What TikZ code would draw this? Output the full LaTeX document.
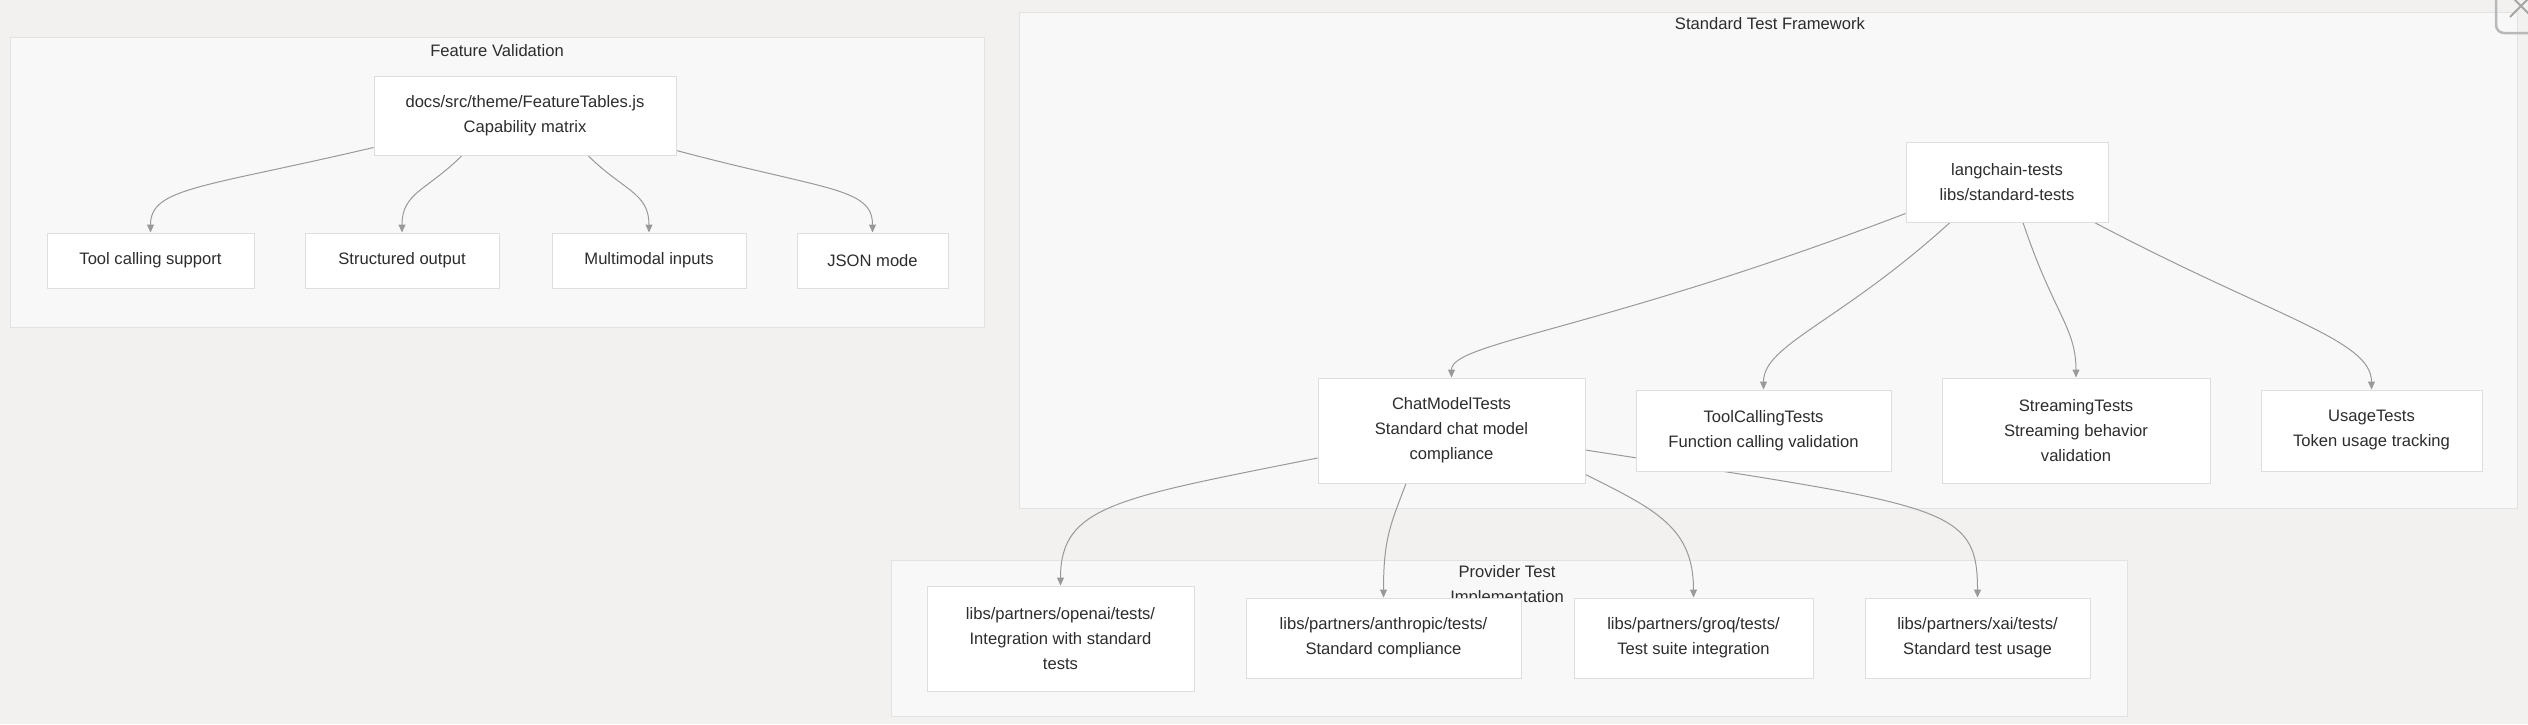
\documentclass[tikz,border=0pt]{standalone}
\usepackage{fontspec}
\setmainfont{Liberation Sans}
\usepackage{tikz}
\usetikzlibrary{arrows.meta}
\definecolor{bgcol}{RGB}{242,241,239}
\definecolor{clfill}{RGB}{248,248,248}
\definecolor{clline}{RGB}{226,226,226}
\definecolor{boxline}{RGB}{222,222,222}
\definecolor{txt}{RGB}{45,45,45}
\definecolor{edgecol}{RGB}{153,153,153}
\pgfdeclarelayer{back}
\pgfdeclarelayer{wires}
\pgfsetlayers{back,wires,main}

\begin{document}
\begin{tikzpicture}[x=1pt, y=-1pt,
  box/.style={rectangle, draw=boxline, fill=white, line width=1pt, align=center, inner sep=0pt, text=txt, font=\fontsize{16.6}{25}\selectfont},
  cluster/.style={draw=clline, fill=clfill, line width=1pt},
  title/.style={text=txt, align=center, font=\fontsize{16.6}{25}\selectfont},
  link/.style={draw=edgecol, line width=1pt, -{Triangle[length=8pt,width=7pt]}}]
\useasboundingbox (0,0) rectangle (2528,724);

\node (cap) at (525,115.5) [box, minimum width=302pt, minimum height=79pt] {docs/src/theme/FeatureTables.js\\Capability matrix};
\node (tool) at (150.5,260.5) [box, minimum width=207pt, minimum height=55pt] {Tool calling support};
\node (struct) at (402,260.5) [box, minimum width=194pt, minimum height=55pt] {Structured output};
\node (multi) at (649,260.5) [box, minimum width=194pt, minimum height=55pt] {Multimodal inputs};
\node (json) at (872.5,260.5) [box, minimum width=151pt, minimum height=55pt] {JSON mode};

\node (lct) at (2007,182) [box, minimum width=202pt, minimum height=80pt] {langchain-tests\\libs/standard-tests};
\node (chat) at (1451.5,430.5) [box, minimum width=267pt, minimum height=105pt] {ChatModelTests\\Standard chat model\\compliance};
\node (toolc) at (1763.5,430.5) [box, minimum width=255pt, minimum height=81pt] {ToolCallingTests\\Function calling validation};
\node (stream) at (2076,430.5) [box, minimum width=268pt, minimum height=105pt] {StreamingTests\\Streaming behavior\\validation};
\node (usage) at (2371.5,430.5) [box, minimum width=221pt, minimum height=81pt] {UsageTests\\Token usage tracking};

\node (openai) at (1060.5,638.5) [box, minimum width=267pt, minimum height=105pt] {libs/partners/openai/tests/\\Integration with standard\\tests};
\node (anth) at (1383.5,638) [box, minimum width=275pt, minimum height=80pt] {libs/partners/anthropic/tests/\\Standard compliance};
\node (groq) at (1693.5,638) [box, minimum width=239pt, minimum height=80pt] {libs/partners/groq/tests/\\Test suite integration};
\node (xai) at (1977.5,638) [box, minimum width=225pt, minimum height=80pt] {libs/partners/xai/tests/\\Standard test usage};

\begin{pgfonlayer}{back}
\fill [bgcol] (0,0) rectangle (2528,724);
\draw [cluster] (10,37) rectangle (984,327);
\node (fv) at (497,51) [title] {Feature Validation};
\draw [cluster] (1019,12) rectangle (2517,508);
\node (stf) at (1770,24) [title] {Standard Test Framework};
\draw [cluster] (891,560) rectangle (2127,716);
\node (pti) at (1507,585.5) [title] {Provider Test\\Implementation};
\end{pgfonlayer}

\begin{pgfonlayer}{wires}
\draw [link] ([yshift=8pt]cap.south west) .. controls +(-170,40) and +(0,-45) .. (tool.north);
\draw [link] ([xshift=-63pt]cap.south) .. controls +(-35,35) and +(0,-40) .. (struct.north);
\draw [link] ([xshift=63pt]cap.south) .. controls +(35,35) and +(0,-40) .. (multi.north);
\draw [link] ([yshift=5pt]cap.south east) .. controls +(150,40) and +(0,-45) .. (json.north);

\draw [link] ([yshift=9pt]lct.south west) .. controls +(-306,117) and +(0,-35) .. (chat.north);
\draw [link] ([xshift=-57pt]lct.south) .. controls +(-110,100) and +(0,-45) .. (toolc.north);
\draw [link] ([xshift=16pt]lct.south) .. controls +(30,90) and +(0,-50) .. (stream.north);
\draw [link] ([xshift=-14pt]lct.south east) .. controls +(180,95) and +(0,-50) .. (usage.north);

\draw [link] ([yshift=-27.5pt]chat.west) .. controls +(-200,40) and +(0,-80) .. (openai.north);
\draw [link] ([xshift=-45.5pt]chat.south) .. controls +(-15,40) and +(0,-60) .. (anth.north);
\draw [link] ([yshift=9pt]chat.south east) .. controls +(70,35) and +(0,-70) .. (groq.north);
\draw [link] ([yshift=-19.5pt]chat.east) .. controls +(360,56) and +(0,-92) .. (xai.north);
\end{pgfonlayer}

\draw [gray!55, line width=2.5pt, rounded corners=8pt] (2496,-20) rectangle (2560,33);
\draw [gray!70, line width=2pt] (2510,-5) -- (2532,17) (2510,17) -- (2532,-5);
\end{tikzpicture}
\end{document}
